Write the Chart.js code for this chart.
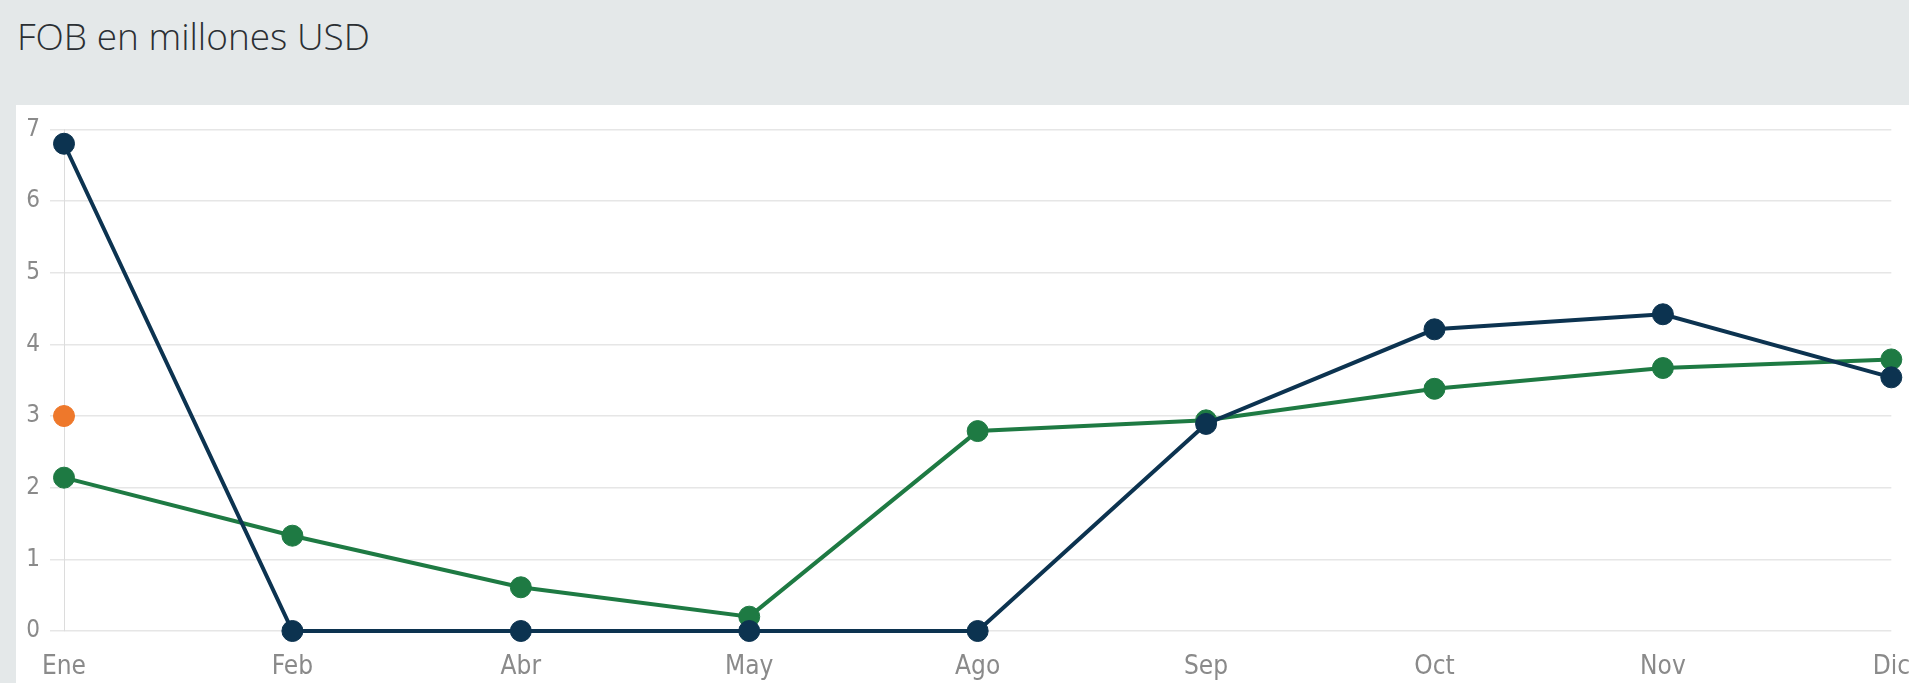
<!DOCTYPE html>
<html>
<head>
<meta charset="utf-8">
<script src="https://cdn.jsdelivr.net/npm/chart.js@4.4.1/dist/chart.umd.min.js"></script>
<style>
  html, body { margin: 0; padding: 0; }
  body {
    width: 1909px; height: 683px; overflow: hidden;
    background: #e4e8e9; position: relative;
  }
  #titulo {
    position: absolute; left: 17px; top: 10px;
    font-family: "Open Sans", Lato, sans-serif; font-weight: 300;
    font-size: 37px; color: #2b2f33; white-space: nowrap;
  }
  #panel {
    position: absolute; left: 16px; top: 105px;
    width: 1940px; height: 578px; background: #fff;
  }
  #caja { position: absolute; left: 0; top: 0; width: 1915px; height: 578px; }
</style>
</head>
<body>
<div id="titulo">FOB en millones USD</div>
<div id="panel">
  <div id="caja"><canvas id="grafica"></canvas></div>
</div>
<script>
const meses = ["Ene", "Feb", "Abr", "May", "Ago", "Sep", "Oct", "Nov", "Dic"];

// valores (millones USD)
const serieAzul = [6.80, 0, 0, 0, 0, 2.89, 4.21, 4.42, 3.54];
const serieVerde = [2.14, 1.33, 0.61, 0.20, 2.79, 2.94, 3.38, 3.67, 3.79];
const serieNaranja = [3.0, null, null, null, null, null, null, null, null];

const ticksY = [0, 1, 2, 3, 4, 5, 6, 7];

const fuenteEjes = "'Liberation Sans Narrow', 'DejaVu Sans Condensed', Roboto, sans-serif";

function serie(nombre, datos, color) {
  return {
    label: nombre,
    data: datos,
    borderColor: color,
    backgroundColor: color,
    borderWidth: 4,
    pointRadius: 10.5,
    pointBorderWidth: 1,
    pointHoverRadius: 10.5,
    tension: 0,
    clip: false,
    spanGaps: false
  };
}

const ctx = document.getElementById("grafica").getContext("2d");

new Chart(ctx, {
  type: "line",
  data: {
    labels: meses,
    datasets: [
      serie("Serie 1", serieAzul, "#0c3350"),
      serie("Serie 2", serieVerde, "#1e7a43"),
      serie("Serie 3", serieNaranja, "#ee782b")
    ]
  },
  options: {
    responsive: true,
    maintainAspectRatio: false,
    animation: false,
    layout: { padding: { top: 13, right: 0, bottom: 0, left: 0 } },
    plugins: {
      legend: { display: false },
      tooltip: { enabled: false }
    },
    scales: {
      x: {
        offset: false,
        grid: { display: false, drawTicks: false },
        border: { display: false },
        ticks: {
          color: "#8a8a8a",
          padding: 21,
          maxRotation: 0,
          autoSkip: false,
          font: { family: fuenteEjes, size: 26 }
        },
        afterFit: eje => { eje.height = 52; }
      },
      y: {
        min: 0,
        max: 7,
        afterBuildTicks: eje => { eje.ticks = ticksY.map(v => ({ value: v })); },
        grid: { color: "#e6e6e6", lineWidth: 1.5, tickLength: 14 },
        border: { display: true, color: "#dcdcdc", width: 1 },
        ticks: {
          color: "#8a8a8a",
          padding: 10,
          font: { family: fuenteEjes, size: 24 }
        },
        afterFit: eje => { eje.width = 48; }
      }
    }
  }
});
</script>
</body>
</html>
